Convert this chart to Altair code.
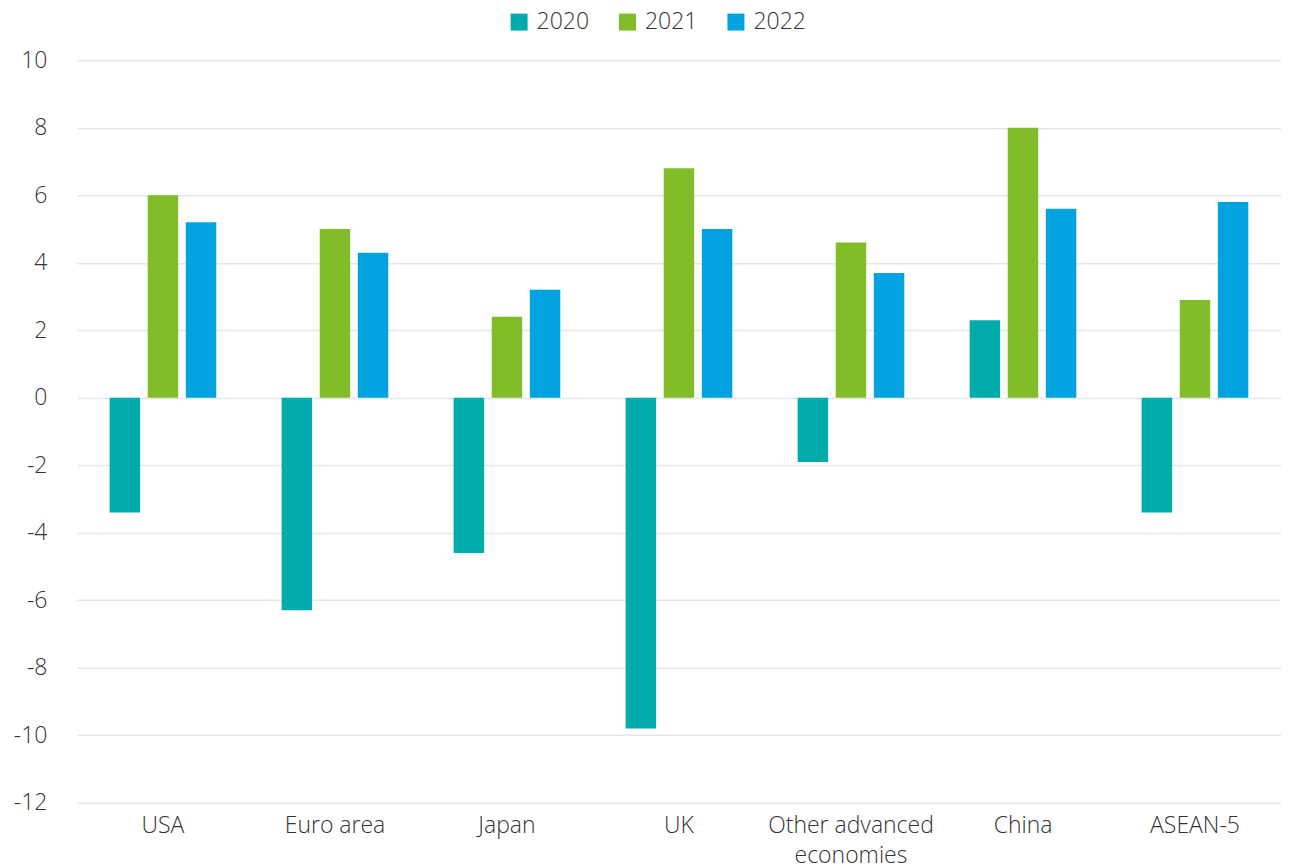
import altair as alt
import pandas as pd

regions = ["USA", "Euro area", "Japan", "UK", "Other advanced economies", "China", "ASEAN-5"]
years = ["2020", "2021", "2022"]
v2020 = [-3.4, -6.3, -4.6, -9.8, -1.9, 2.3, -3.4]
v2021 = [6.0, 5.0, 2.4, 6.8, 4.6, 8.0, 2.9]
v2022 = [5.2, 4.3, 3.2, 5.0, 3.7, 5.6, 5.8]
colors = ["#00ABAB", "#81BC29", "#00A3E0"]
y_ticks = list(range(-12, 11, 2))

rows = []
for yr, vals in zip(years, [v2020, v2021, v2022]):
    for r, v in zip(regions, vals):
        rows.append({"region": r, "year": yr, "value": v})
df = pd.DataFrame(rows)

FONT = "Open Sans"
TXT = "#333333"
FS = 23

chart = alt.Chart(df).mark_bar().encode(
    x=alt.X("region:N", sort=regions, title=None,
            scale=alt.Scale(paddingInner=0.38, paddingOuter=0.19),
            axis=alt.Axis(labelAngle=0, domain=False, ticks=False, grid=False, labelPadding=12,
                          labelFont=FONT, labelFontSize=FS, labelColor=TXT, labelFontWeight=300,
                          labelLineHeight=30, labelLimit=300,
                          labelExpr="datum.label == 'Other advanced economies' ? ['Other advanced', 'economies'] : datum.label")),
    xOffset=alt.XOffset("year:N", sort=years, scale=alt.Scale(paddingInner=0.2, paddingOuter=0)),
    y=alt.Y("value:Q", title=None,
            scale=alt.Scale(domain=[-12, 10], nice=False, zero=False),
            axis=alt.Axis(values=y_ticks, domain=False, ticks=False, labelPadding=30,
                          labelExpr="toString(datum.value)",
                          labelFont=FONT, labelFontSize=FS, labelColor=TXT, labelFontWeight=300,
                          gridColor="#e6e6e6", gridWidth=1.5)),
    color=alt.Color("year:N", sort=years,
                    scale=alt.Scale(domain=years, range=colors),
                    legend=alt.Legend(title=None, orient="none", direction="horizontal",
                                      legendX=431, legendY=-50, padding=0,
                                      symbolType="square", symbolSize=289, symbolStrokeWidth=0,
                                      labelFont=FONT, labelFontSize=FS, labelColor=TXT, labelFontWeight=300,
                                      labelOffset=6, columnPadding=26.5)),
).properties(
    width=1205, height=743, background="white",
    padding={"left": 5, "top": 2, "right": 0, "bottom": 0},
).configure_view(strokeWidth=0, stroke="transparent")

chart.save("out.html", embed_options={"renderer": "svg", "actions": False})
